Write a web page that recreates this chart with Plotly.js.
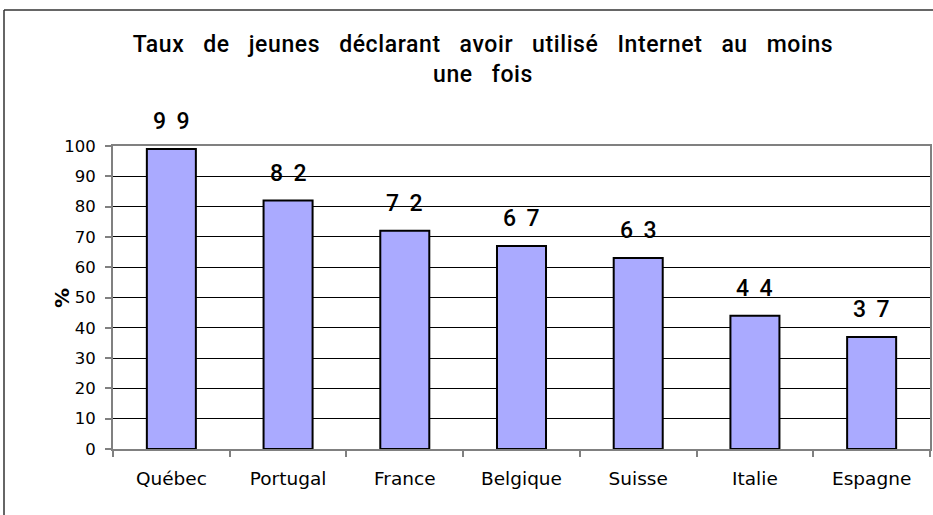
<!DOCTYPE html>
<html><head><meta charset="utf-8">
<script src="https://cdn.plot.ly/plotly-3.0.1.min.js"></script>
<style>
html,body{margin:0;padding:0;background:#fff}
.gtitle{letter-spacing:0.6px}
</style>
</head><body><div id="chart" style="width:933px;height:515px"></div>
<script>
const categories = ["Québec","Portugal","France","Belgique","Suisse","Italie","Espagne"];
const values = [99, 82, 72, 67, 63, 44, 37];
const yTicks = [0,10,20,30,40,50,60,70,80,90,100];
const titleText = "Taux\u00a0\u00a0 de\u00a0\u00a0 jeunes\u00a0\u00a0 déclarant\u00a0\u00a0 avoir\u00a0\u00a0 utilisé\u00a0\u00a0 Internet\u00a0\u00a0 au\u00a0\u00a0 moins<br>une\u00a0\u00a0 fois";
const yTitle = "%";

const FONT = "DejaVu Sans, Verdana, sans-serif";
const TFONT = "Roboto, Liberation Sans, Arial, sans-serif";
const spaced = v => String(v).split("").join("\u00a0\u2009");

const trace = {
  type: "bar", x: categories, y: values,
  marker: {color: "#AAAAFF", line: {color: "#000000", width: 2}},
  hoverinfo: "skip"
};

const L = 113, R = 930, T = 146, B = 449, W = 933, H = 515;
const px = p => (p - L) / (R - L);
const py = p => (B - p) / (B - T);

const annotations = categories.map((c, i) => ({
  x: c, y: values[i], xref: "x", yref: "y", text: spaced(values[i]),
  showarrow: false, yanchor: "bottom", yshift: 12,
  font: {family: TFONT, size: 23, color: "#000", weight: 500}
}));
annotations.push({
  x: px(62), y: py(298), xref: "paper", yref: "paper", text: "<b>" + yTitle + "</b>",
  textangle: -90, showarrow: false, xanchor: "center", yanchor: "middle",
  font: {family: FONT, size: 20, color: "#000"}
});

const layout = {
  width: W, height: H,
  margin: {l: L, r: W - R, t: T, b: H - B, pad: 0},
  paper_bgcolor: "#fff", plot_bgcolor: "#fff",
  showlegend: false,
  bargap: 0.58,
  title: {text: titleText, x: 483 / W, xanchor: "center", y: 1 - 52 / H, yanchor: "middle",
          font: {family: TFONT, size: 23, color: "#000", weight: 500}},
  xaxis: {
    type: "category", tickson: "boundaries", ticks: "outside", ticklen: 6, tickcolor: "#808080", tickwidth: 2,
    showline: true, linecolor: "#808080", linewidth: 2, mirror: true,
    showgrid: false, ticklabelstandoff: 12,
    tickfont: {family: FONT, size: 18.5, color: "#000"}, automargin: false
  },
  yaxis: {
    range: [0, 100], tickvals: yTicks, ticks: "outside", ticklen: 6, tickcolor: "#808080", tickwidth: 2,
    showline: true, linecolor: "#808080", linewidth: 2, mirror: true,
    showgrid: true, gridcolor: "#000", gridwidth: 1, zeroline: false,
    ticklabelstandoff: 6,
    tickfont: {family: FONT, size: 16.5, color: "#000"},
    automargin: false
  },
  annotations: annotations,
  shapes: [
    {type: "line", xref: "paper", yref: "paper", x0: px(4), x1: px(935), y0: py(10), y1: py(10), line: {color: "#333", width: 1.5}},
    {type: "line", xref: "paper", yref: "paper", x0: px(4), x1: px(4), y0: py(10), y1: py(520), line: {color: "#333", width: 1.5}}
  ]
};

Plotly.newPlot("chart", [trace], layout, {staticPlot: true, displayModeBar: false});
</script></body></html>
